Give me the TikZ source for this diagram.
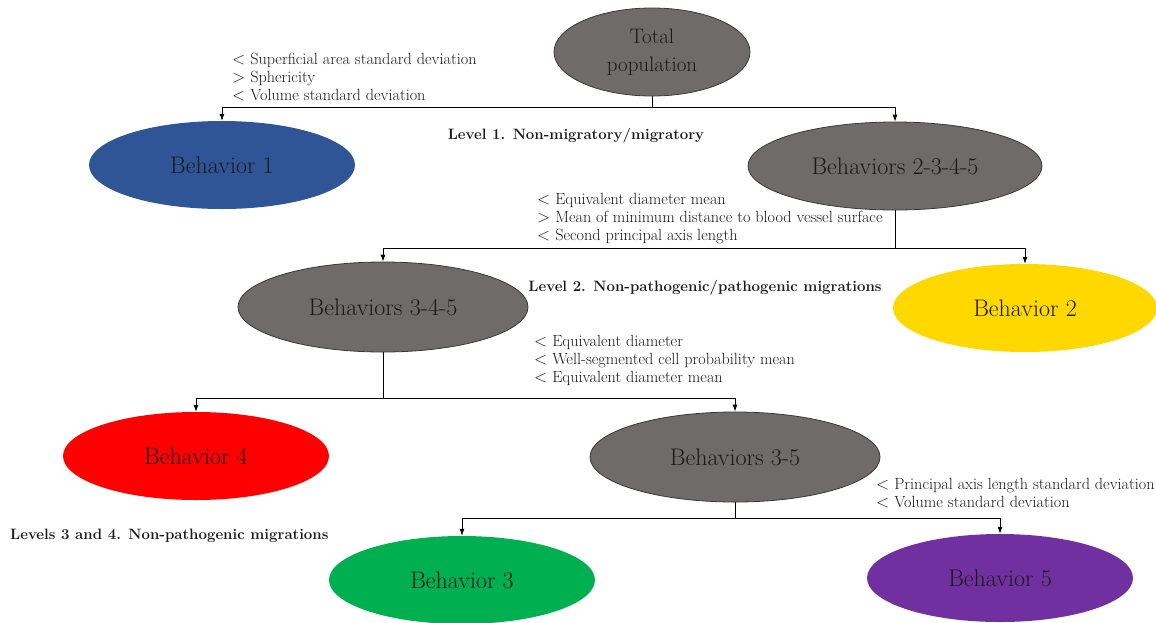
\documentclass[tikz,border=0pt]{standalone}
\usetikzlibrary{shapes.geometric,arrows.meta}
\definecolor{gfill}{HTML}{6F6B6B}
\definecolor{gline}{HTML}{3A3838}
\definecolor{bblue}{HTML}{2F5597}
\definecolor{byellow}{HTML}{FFD800}
\definecolor{bred}{HTML}{FF0000}
\definecolor{bgreen}{HTML}{00B050}
\definecolor{bpurple}{HTML}{7030A0}
\definecolor{txt}{HTML}{1A1A1A}
\tikzset{
  beh/.style={ellipse, inner sep=0pt, text=txt, font=\fontsize{24}{28}\selectfont, align=center},
  grayb/.style={beh, fill=gfill, draw=gline, line width=0.8pt},
  crit/.style={anchor=north west, inner sep=0pt, align=left, text=txt, font=\fontsize{16.2}{18}\selectfont},
  lvl/.style={inner sep=0pt, text=txt, font=\fontsize{15}{18}\selectfont\bfseries},
  conn/.style={line width=0.8pt, draw=black},
  arr/.style={conn, -{Latex[length=7pt,width=5pt]}},
}
\begin{document}
\begin{tikzpicture}[x=1pt,y=-1pt]
\useasboundingbox (0,0) rectangle (1156,622);
% ellipses
\node[grayb, minimum width=196, minimum height=88, font=\fontsize{21}{28}\selectfont] (tp) at (652,52) {Total\\population};
\node[beh, fill=bblue, minimum width=266, minimum height=88] (b1) at (222,165) {Behavior 1};
\node[grayb, minimum width=294, minimum height=88] (b2345) at (895,166) {Behaviors 2-3-4-5};
\node[grayb, minimum width=290, minimum height=90] (b345) at (383,307) {Behaviors 3-4-5};
\node[beh, fill=byellow, minimum width=264, minimum height=88] (b2) at (1025,308) {Behavior 2};
\node[beh, fill=bred, minimum width=266, minimum height=88] (b4) at (196,456) {Behavior 4};
\node[grayb, minimum width=290, minimum height=90] (b35) at (735,457) {Behaviors 3-5};
\node[beh, fill=bgreen, minimum width=266, minimum height=88] (b3) at (462,580) {Behavior 3};
\node[beh, fill=bpurple, minimum width=266, minimum height=88] (b5) at (1000,578) {Behavior 5};
% junctions
\coordinate (j1) at (652,107);
\coordinate (j2) at (895,248);
\coordinate (j3) at (383,398);
\coordinate (j4) at (735,518);
% connectors
\draw[conn] (tp.south) -- (j1);
\draw[arr] (j1) -| (b1.north);
\draw[arr] (j1) -| (b2345.north);
\draw[conn] (b2345.south) -- (j2);
\draw[arr] (j2) -| (b345.north);
\draw[arr] (j2) -| (b2.north);
\draw[conn] (b345.south) -- (j3);
\draw[arr] (j3) -| (b4.north);
\draw[arr] (j3) -| (b35.north);
\draw[conn] (b35.south) -- (j4);
\draw[arr] (j4) -| (b3.north);
\draw[arr] (j4) -| (b5.north);
% criteria
\node[crit] (c1) at (232,52.5) {$<$ Superficial area standard deviation\\$>$ Sphericity\\$<$ Volume standard deviation};
\node[crit] (c2) at (537,193.5) {$<$ Equivalent diameter mean\\$>$ Mean of minimum distance to blood vessel surface\\$<$ Second principal axis length};
\node[crit] (c3) at (534,335.5) {$<$ Equivalent diameter\\$<$ Well-segmented cell probability mean\\$<$ Equivalent diameter mean};
\node[crit] (c4) at (876,478.5) {$<$ Principal axis length standard deviation\\$<$ Volume standard deviation};
% level labels
\node[lvl] (l1) at (576,136) {Level 1. Non-migratory/migratory};
\node[lvl] (l2) at (705,288) {Level 2. Non-pathogenic/pathogenic migrations};
\node[lvl, anchor=west] (l3) at (10,536) {Levels 3 and 4. Non-pathogenic migrations};
\end{tikzpicture}
\end{document}
